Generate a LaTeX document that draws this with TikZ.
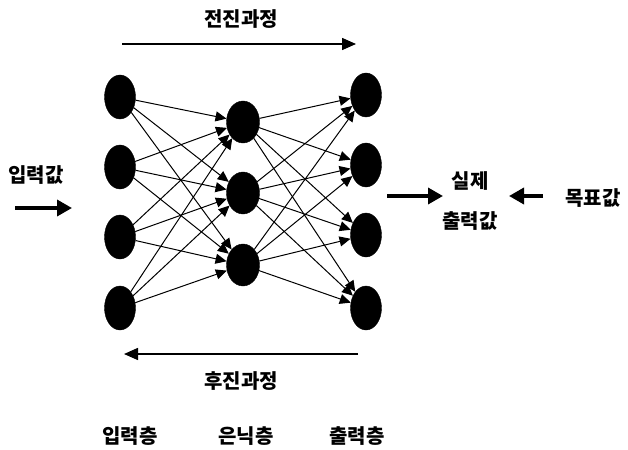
\documentclass[tikz,border=0pt]{standalone}
\usepackage{fontspec}
\setmainfont{Noto Sans CJK KR}
\usetikzlibrary{shapes.geometric,arrows.meta}
\begin{document}
\begin{tikzpicture}[x=1pt,y=-1pt,
  neuron/.style={ellipse,fill=black,draw=black,inner sep=0pt,minimum width=31pt,minimum height=44pt},
  hneuron/.style={neuron,minimum width=33pt,minimum height=42pt},
  conn/.style={line width=1pt,-{Triangle[length=11pt,width=10pt]}},
  lbl/.style={font=\fontsize{20}{24}\selectfont\bfseries},
  thickarrow/.style={line width=3.5pt,-{Triangle[length=15pt,width=16pt]}},
  procarrow/.style={line width=1.5pt,-{Triangle[length=14pt,width=12pt]}}]
\useasboundingbox (0,0) rectangle (628,449);
% nodes
\foreach \i/\y in {1/97,2/167,3/237,4/308} \node[neuron] (i\i) at (120,\y) {};
\foreach \i/\y in {1/122,2/193,3/265} \node[hneuron] (h\i) at (243,\y) {};
\foreach \i/\y in {1/95,2/165,3/235,4/308} \node[neuron] (o\i) at (366,\y) {};
% connections
\foreach \a in {1,2,3,4} \foreach \b in {1,2,3} \draw[conn] (i\a) -- (h\b);
\foreach \b in {1,2,3} \foreach \c in {1,2,3,4} \draw[conn] (h\b) -- (o\c);
% labels
\node[lbl] (fwd) at (241,19) {전진과정};
\coordinate (fa) at (122,44);
\coordinate (fb) at (356,44);
\draw[procarrow] (fa) -- (fb);
\node[lbl] (bwd) at (241,381) {후진과정};
\coordinate (ba) at (358,354);
\coordinate (bb) at (124,354);
\draw[procarrow] (ba) -- (bb);
\node[lbl] (l1) at (130,436) {입력층};
\node[lbl] (l2) at (246,436) {은닉층};
\node[lbl] (l3) at (357,436) {출력층};
\node[lbl] (inv) at (36,175) {입력값};
\coordinate (ia) at (15,208);
\coordinate (ib) at (72,208);
\draw[thickarrow] (ia) -- (ib);
\node[lbl] (real) at (470,181) {실제};
\node[lbl] (outv) at (470,221) {출력값};
\coordinate (oa) at (387,196);
\coordinate (ob) at (443,196);
\draw[thickarrow] (oa) -- (ob);
\node[lbl] (tgt) at (593,198) {목표값};
\coordinate (ta) at (543,196);
\coordinate (tb) at (509,196);
\draw[thickarrow] (ta) -- (tb);
\end{tikzpicture}
\end{document}
